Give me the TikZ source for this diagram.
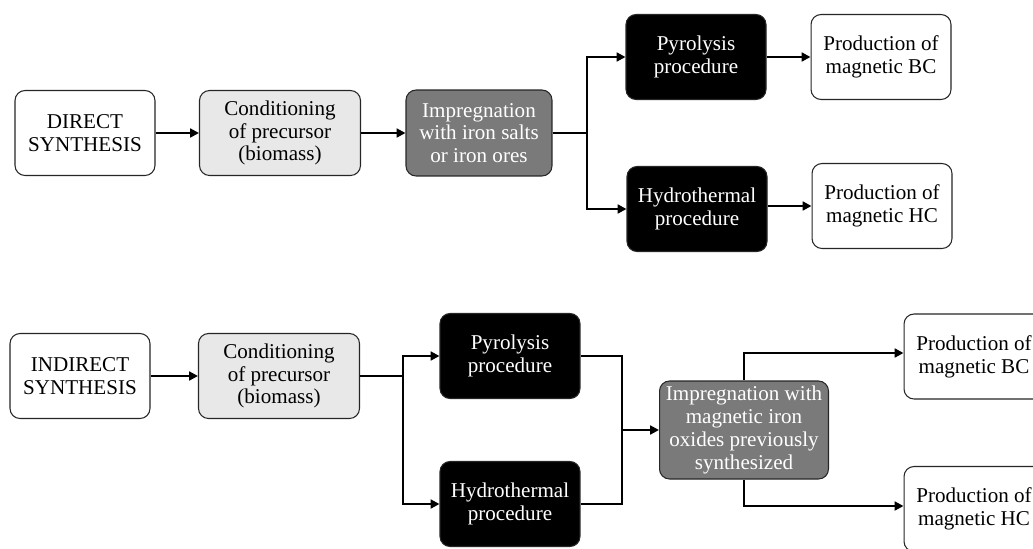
\documentclass[tikz,border=0pt]{standalone}
\usepackage{fontspec}
\setmainfont{Liberation Serif}
\usetikzlibrary{arrows.meta}

\begin{document}
\begin{tikzpicture}[x=0.02cm,y=-0.02cm,
  box/.style = {draw=black!85, line width=0.6pt, rounded corners=0.2cm, align=center, inner sep=2pt, font=\fontsize{12}{13}\selectfont},
  plain/.style = {box, fill=white, minimum width=2.8cm, minimum height=1.7cm},
  cond/.style = {box, fill=black!9, minimum width=3.22cm, minimum height=1.7cm},
  impr/.style = {box, fill=black!52, text=white},
  proc/.style = {box, fill=black, text=white, minimum width=2.8cm, minimum height=1.7cm},
  link/.style = {line width=1.5pt, -{Triangle[length=5pt,width=5pt]}}]
					\clip (0,0) rectangle (1033,548);
					% direct synthesis
					\node[plain] (A) at (85,133) {DIRECT\\SYNTHESIS};
					\node[cond] (B) at (280,133) {Conditioning\\of precursor\\(biomass)};
					\node[impr, minimum width=2.92cm, minimum height=1.72cm] (C) at (479,133) {Impregnation\\with iron salts\\or iron ores};
					\node[proc] (D) at (696,57) {Pyrolysis\\procedure};
					\node[proc] (E) at (697,209) {Hydrothermal\\procedure};
					\node[plain] (F) at (881,57) {Production of\\magnetic BC};
					\node[plain] (G) at (882,206) {Production of\\magnetic HC};
					\coordinate (J1) at (587,133);
					\draw [link] (A) -- (B);
					\draw [link] (B) -- (C);
					\draw [line width=1.5pt] (C) -- (J1);
					\draw [link] (J1) |- (D);
					\draw [link] (J1) |- (E);
					\draw [link] (D) -- (F);
					\draw [link] (E.east |- G) -- (G);
					% indirect synthesis
					\node[plain] (H) at (80,376) {INDIRECT\\SYNTHESIS};
					\node[cond] (I) at (279,376) {Conditioning\\of precursor\\(biomass)};
					\node[proc] (K) at (510,356) {Pyrolysis\\procedure};
					\node[proc] (L) at (510,504) {Hydrothermal\\procedure};
					\node[impr, minimum width=3.38cm, minimum height=1.96cm] (M) at (744,430) {Impregnation with\\magnetic iron\\oxides previously\\synthesized};
					\node[plain] (N) at (974,356.5) {Production of\\magnetic BC};
					\node[plain] (P) at (974,509) {Production of\\magnetic HC};
					\coordinate (J2) at (403,376);
					\coordinate (J3) at (622,430);
					\draw [link] (H) -- (I);
					\draw [line width=1.5pt] (I) -- (J2);
					\draw [link] (J2) |- (K);
					\draw [link] (J2) |- (L);
					\draw [line width=1.5pt] (K) -| (J3);
					\draw [line width=1.5pt] (L) -| (J3);
					\draw [link] (J3) -- (M);
					\draw [link] (M.north) |- (N.west |- 0,353);
					\draw [link] (M.south) |- (P.west |- 0,506);
\end{tikzpicture}
\end{document}
